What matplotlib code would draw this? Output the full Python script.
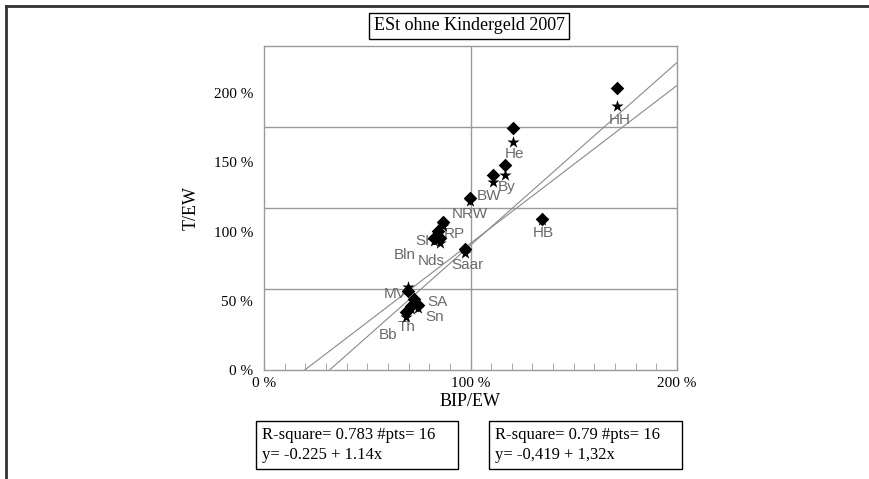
import matplotlib
matplotlib.use('Agg')
import matplotlib.pyplot as plt
from matplotlib.lines import Line2D
import numpy as np

# BIP/EW and T/EW per Bundesland, in percent of the national average
states = ['HH', 'He', 'By', 'BW', 'NRW', 'HB', 'Saar', 'RP', 'SH', 'Nds', 'Bln',
          'MV', 'Sn', 'Th', 'SA', 'Bb']
bip_ew = [171, 120.6, 116.7, 110.9, 99.8, 134.6, 97.3, 86.7, 84.3, 82.3, 85.2,
          69.7, 72.6, 71.0, 74.6, 68.7]
t_ew_a = [204, 174.6, 148, 140.6, 124, 108.7, 87.7, 107, 100.7, 95.6, 95,
          57, 51.4, 46, 47, 42]
t_ew_b = [190.6, 165, 141, 136, 122, 108, 84.8, 104, 98, 93, 92,
          60, 49, 44, 45, 38]

# regression results (fractions, not percent)
fit_a = {'r2': '0.783', 'n': 16, 'a': -0.225, 'b': 1.14, 'text': 'y= -0.225 + 1.14x'}
fit_b = {'r2': '0.79', 'n': 16, 'a': -0.419, 'b': 1.32, 'text': 'y= -0,419 + 1,32x'}

xticks = [0, 100, 200]
yticks = [0, 50, 100, 150, 200]
xmax, ymax = 200, 234

# label offsets in points, relative to the star marker
label_offsets = {
    'HH': (2, -10), 'He': (1, -9), 'By': (1, -9), 'BW': (-3, -10), 'NRW': (0, -9),
    'HB': (1, -9), 'Saar': (2, -9), 'RP': (8, -6), 'SH': (-9, -5), 'Nds': (-2, -14),
    'Bln': (-25, -9), 'MV': (-9, -5), 'Sn': (15, -11), 'Th': (-3, -13), 'SA': (14, 4),
    'Bb': (-13, -13),
}

serif = 'Liberation Serif'
grey = '#9a9a9a'

fig = plt.figure(figsize=(8.7, 4.79), dpi=100)
ax = fig.add_axes([264 / 870, 1 - 370 / 479, 413 / 870, 324 / 479])

ax.set_xlim(0, xmax)
ax.set_ylim(0, ymax)
for s in ax.spines.values():
    s.set_color(grey)
    s.set_linewidth(1.0)

# quarter grid
ax.axvline(xmax / 2, color=grey, lw=1.0, zorder=1)
for q in (0.25, 0.5, 0.75):
    ax.axhline(ymax * q, color=grey, lw=1.0, zorder=1)

# regression lines from the stated coefficients
xs = np.linspace(0, xmax, 200)
for fit in (fit_a, fit_b):
    ys = 100 * (fit['a'] + fit['b'] * xs / 100)
    ax.plot(xs, ys, color='#8a8a8a', lw=0.8, zorder=2)

ax.scatter(bip_ew, t_ew_a, marker='D', s=48, color='black', zorder=4, linewidths=0)
ax.scatter(bip_ew, t_ew_b, marker='*', s=85, color='black', zorder=4, linewidths=0)

for name, x, y in zip(states, bip_ew, t_ew_b):
    dx, dy = label_offsets[name]
    ax.annotate(name, (x, y), xytext=(dx, dy), textcoords='offset points',
                ha='center', va='center', fontsize=11, color='#6a6a6a',
                family='Liberation Sans', zorder=3)

ax.set_xticks(xticks)
ax.set_xticklabels([f'{t} %' for t in xticks], family=serif, fontsize=11)
ax.set_xticks(np.arange(0, xmax + 1, 10), minor=True)
ax.tick_params(axis='x', which='both', direction='in', length=5, color=grey, pad=5)
ax.set_yticks(yticks)
ax.set_yticklabels([f'{t} %' for t in yticks], family=serif, fontsize=11)
ax.tick_params(axis='y', length=0, pad=8)

ax.set_xlabel('BIP/EW', family=serif, fontsize=13, labelpad=2)
ax.set_ylabel('T/EW', family=serif, fontsize=13, labelpad=10)

box = dict(boxstyle='square,pad=0.25', fc='white', ec='black', lw=1.0)
fig.text(469 / 870, 1 - 26 / 479, 'ESt ohne Kindergeld 2007', family=serif,
         fontsize=13, ha='center', va='center', bbox=box)

stat_box = dict(boxstyle='square,pad=0.35', fc='white', ec='black', lw=1.0)
for fit, x0 in ((fit_a, 262 / 870), (fit_b, 495 / 870)):
    txt = f"R-square= {fit['r2']} #pts= {fit['n']}    \n{fit['text']}"
    fig.text(x0, 1 - 445 / 479, txt, family=serif, fontsize=12, ha='left',
             va='center', linespacing=1.35, bbox=stat_box)

# page frame
fig.add_artist(Line2D([6 / 870, 1], [1 - 6 / 479] * 2, color='#333333', lw=2))
fig.add_artist(Line2D([6 / 870] * 2, [0, 1 - 6 / 479], color='#333333', lw=2))

fig.savefig('out.png', dpi=100)
